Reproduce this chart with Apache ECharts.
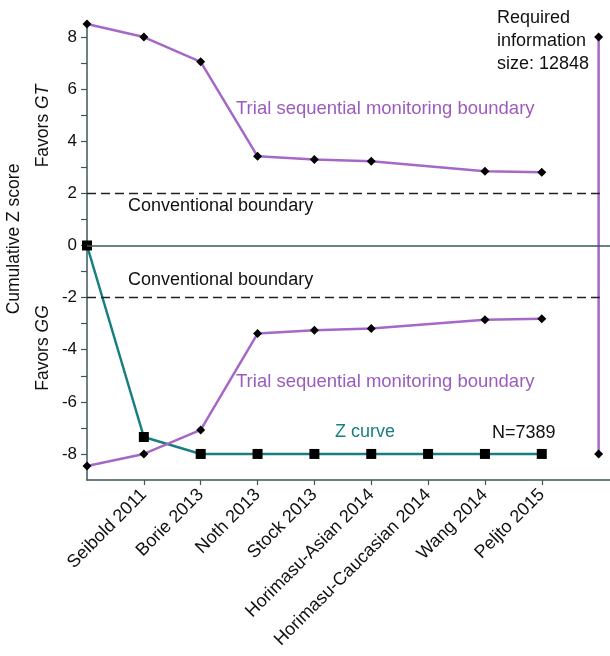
<!DOCTYPE html>
<html>
<head>
<meta charset="utf-8">
<script src="https://cdn.jsdelivr.net/npm/echarts@6/dist/echarts.min.js"></script>
<style>
html,body{margin:0;padding:0;background:#fff;}
#chart{width:610px;height:656px;}
</style>
</head>
<body>
<div id="chart"></div>
<script>
// ---- data ----
var studies = ['Seibold 2011','Borie 2013','Noth 2013','Stock 2013','Horimasu-Asian 2014','Horimasu-Caucasian 2014','Wang 2014','Peljto 2015'];
var studyPositions = [1,2,3,4,5,6,7,8];
var upperBoundaryX = [0,1,2,3,4,5,7,8];
var upperBoundaryY = [8.5,8.0,7.05,3.42,3.3,3.23,2.85,2.81];
var lowerBoundaryX = [0,1,2,3,4,5,7,8];
var lowerBoundaryY = [-8.46,-8.0,-7.08,-3.38,-3.25,-3.19,-2.85,-2.81];
var zCurveX = [0,1,2,3,4,5,6,7,8];
var zCurveY = [0,-7.35,-8,-8,-8,-8,-8,-8,-8];
var requiredX = [9,9];
var requiredY = [8,-8];
var conventional = [2,-2];
var yTickLabels = [-8,-6,-4,-2,0,2,4,6,8];
var yTicks = [-8,-7,-6,-5,-4,-3,-2,-1,0,1,2,3,4,5,6,7,8];

function pairs(xs, ys){ return xs.map(function(x,i){return [x, ys[i]];}); }

var PURPLE = '#a568c6';
var PURPLE_TXT = '#9c5cbb';
var TEAL = '#177f80';
var AXIS = '#3b5858';
var FONT = '"Liberation Sans", Arial, sans-serif';

var chart = echarts.init(document.getElementById('chart'), null, {renderer:'canvas'});
chart.setOption({
  animation:false,
  backgroundColor:'#fff',
  grid:{left:87, right:0, top:24, bottom:176, containLabel:false},
  xAxis:{
    type:'value', min:0, max:9.2,
    axisLine:{show:true, onZero:false, lineStyle:{color:AXIS, width:1.5}},
    axisTick:{show:true, customValues:studyPositions, length:5, lineStyle:{color:AXIS, width:1.2}},
    axisLabel:{customValues:studyPositions, rotate:45, margin:12, fontSize:18, color:'#111', fontFamily:FONT,
      formatter:function(v){ return studies[Math.round(v)-1] || ''; }},
    splitLine:{show:false}
  },
  yAxis:{
    type:'value', min:-9, max:8.5,
    axisLine:{show:true, onZero:false, lineStyle:{color:AXIS, width:1.5}},
    axisTick:{show:true, customValues:yTicks, length:6, lineStyle:{color:AXIS, width:1.2}},
    axisLabel:{customValues:yTickLabels, margin:10, fontSize:17, color:'#111', fontFamily:FONT,
      formatter:function(v){ return String(v); }},
    splitLine:{show:false}
  },
  series:[
    {
      type:'line', name:'ref', data:[], silent:true,
      markLine:{
        silent:true, symbol:'none', label:{show:false},
        data:[
          [{coord:[0,conventional[0]], lineStyle:{type:[9,5], color:'#222', width:1.4}},{coord:[9.02,conventional[0]]}],
          [{coord:[0,conventional[1]], lineStyle:{type:[9,5], color:'#222', width:1.4}},{coord:[9.02,conventional[1]]}],
          [{coord:[0,0], lineStyle:{type:'solid', color:AXIS, width:1.5}},{coord:[9.2,0]}]
        ]
      }
    },
    {
      type:'line', name:'Z curve', data:pairs(zCurveX, zCurveY),
      lineStyle:{color:TEAL, width:2.5}, itemStyle:{color:'#000'},
      symbol:'rect', symbolSize:10, showSymbol:true, z:3
    },
    {
      type:'line', name:'upper', data:pairs(upperBoundaryX, upperBoundaryY),
      lineStyle:{color:PURPLE, width:2.5}, itemStyle:{color:'#000'},
      symbol:'diamond', symbolSize:9, z:4
    },
    {
      type:'line', name:'lower', data:pairs(lowerBoundaryX, lowerBoundaryY),
      lineStyle:{color:PURPLE, width:2.5}, itemStyle:{color:'#000'},
      symbol:'diamond', symbolSize:9, z:4
    },
    {
      type:'line', name:'required', data:pairs(requiredX, requiredY),
      lineStyle:{color:PURPLE, width:2.5}, itemStyle:{color:'#000'},
      symbol:'diamond', symbolSize:9, z:4
    }
  ],
  graphic:[
    {type:'text', left:236, top:99, style:{text:'Trial sequential monitoring boundary', fill:PURPLE_TXT, font:'18.5px '+FONT}},
    {type:'text', left:236, top:372, style:{text:'Trial sequential monitoring boundary', fill:PURPLE_TXT, font:'18.5px '+FONT}},
    {type:'text', left:128, top:197, style:{text:'Conventional boundary', fill:'#111', font:'18px '+FONT}},
    {type:'text', left:128, top:271, style:{text:'Conventional boundary', fill:'#111', font:'18px '+FONT}},
    {type:'text', left:335, top:423, style:{text:'Z curve', fill:TEAL, font:'18px '+FONT}},
    {type:'text', left:492, top:424, style:{text:'N=7389', fill:'#111', font:'18px '+FONT}},
    {type:'text', left:497, top:7, style:{text:'Required\ninformation\nsize: 12848', fill:'#111', font:'18px '+FONT, lineHeight:23}},
    {type:'text', x:14, y:239, rotation:Math.PI/2, style:{text:'Cumulative Z score', fill:'#111', font:'17.5px '+FONT, textAlign:'center', textVerticalAlign:'middle'}},
    {type:'text', x:43, y:126, rotation:Math.PI/2, style:{
      rich:{n:{font:'17.5px '+FONT, fill:'#111'}, i:{font:'italic 17.5px '+FONT, fill:'#111'}},
      text:'{n|Favors }{i|GT}', textAlign:'center', textVerticalAlign:'middle'}},
    {type:'text', x:43, y:348, rotation:Math.PI/2, style:{
      rich:{n:{font:'17.5px '+FONT, fill:'#111'}, i:{font:'italic 17.5px '+FONT, fill:'#111'}},
      text:'{n|Favors }{i|GG}', textAlign:'center', textVerticalAlign:'middle'}}
  ]
});
</script>
</body>
</html>
